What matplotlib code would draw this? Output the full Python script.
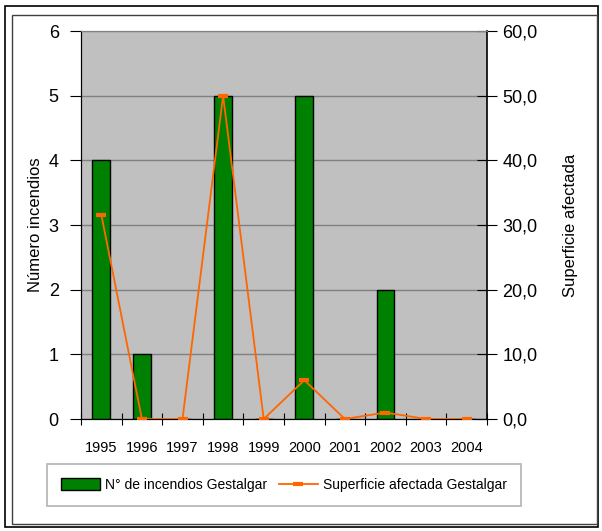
import matplotlib.pyplot as plt
import numpy as np
from matplotlib.patches import Rectangle

years = ["1995", "1996", "1997", "1998", "1999", "2000", "2001", "2002", "2003", "2004"]
incendios = [4, 1, 0, 5, 0, 5, 0, 2, 0, 0]
superficie = [31.6, 0.0, 0.0, 50.0, 0.0, 6.0, 0.0, 1.0, 0.0, 0.0]

plt.rcParams["font.family"] = ["Liberation Sans", "DejaVu Sans"]

fig = plt.figure(figsize=(6.02, 5.31), dpi=100)
fig.patches.append(Rectangle((5 / 602, 1 - 527 / 531), 593 / 602, 521 / 531, transform=fig.transFigure,
                             fill=False, edgecolor="black", linewidth=1.2))
fig.patches.append(Rectangle((12 / 602, 1 - 524 / 531), 585 / 602, 509 / 531, transform=fig.transFigure,
                             fill=False, edgecolor="#404040", linewidth=1.0))

ax = fig.add_axes([81 / 602, 1 - 419 / 531, 406 / 602, 388 / 531])
ax.set_facecolor("#c0c0c0")
x = np.arange(len(years))
bars = ax.bar(x, incendios, width=0.44, color="#008000", edgecolor="black", linewidth=1.0,
              label="N° de incendios Gestalgar", zorder=3)
ax.set_xlim(-0.5, len(years) - 0.5)
ax.set_ylim(0, 6)
ax.set_yticks(range(0, 7))
ax.grid(axis="y", color="#808080", linewidth=1.0, zorder=0)
ax.set_axisbelow(True)
ax.set_xticks(np.arange(-0.5, len(years), 1.0))
ax.set_xticklabels([])
ax.set_xticks(x, minor=True)
ax.set_xticklabels(years, minor=True, fontsize=10.5)
ax.tick_params(axis="x", which="major", direction="inout", length=8, color="black")
ax.tick_params(axis="x", which="minor", length=0, pad=16)
ax.tick_params(axis="y", direction="out", length=8, labelsize=13, pad=8)
ax.set_ylabel("Número incendios", fontsize=12, labelpad=4)
ax.spines["top"].set_color("#808080")
ax.spines["right"].set_visible(False)

ax2 = ax.twinx()
line, = ax2.plot(x, superficie, color="#ff6600", linewidth=1.3, marker="_", markersize=7,
                 markeredgewidth=3, label="Superficie afectada Gestalgar", zorder=4)
ax2.set_ylim(0, 60)
ax2.set_yticks(range(0, 61, 10))
ax2.set_yticklabels([f"{v},0" for v in range(0, 61, 10)])
ax2.tick_params(axis="y", direction="inout", length=14, labelsize=13, pad=4)
ax2.set_ylabel("Superficie afectada", fontsize=12, labelpad=18)
ax2.spines["top"].set_color("#808080")
ax2.spines["right"].set_linewidth(1.2)

leg = fig.legend(handles=[bars, line], loc="center", bbox_to_anchor=(284 / 602, 1 - 485 / 531),
                 ncol=2, fontsize=10, frameon=True, fancybox=False, edgecolor="#a0a0a0",
                 handlelength=2.8, handleheight=0.9, columnspacing=0.8, handletextpad=0.4,
                 borderpad=1.0)
leg.get_frame().set_linewidth(1.2)

fig.savefig("out.png", dpi=100)
